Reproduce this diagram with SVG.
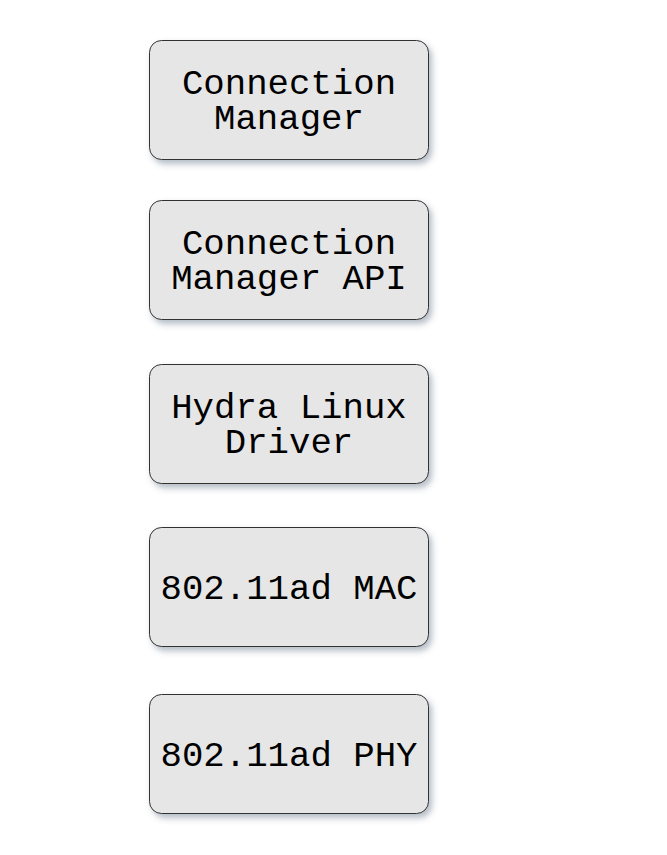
<svg xmlns="http://www.w3.org/2000/svg" width="667" height="855" viewBox="0 0 667 855">
<style>
.box{fill:#e6e6e6;stroke:#333333;stroke-width:1;filter:url(#sh)}
.t{font-family:"Liberation Mono","Courier New",monospace;font-size:35.7px;fill:#000000;text-anchor:middle}
</style>
<defs>
<filter id="sh" x="-10%" y="-10%" width="125%" height="130%">
<feDropShadow dx="3" dy="4" stdDeviation="3" flood-color="#5a6a80" flood-opacity="0.45"/>
</filter>
</defs>
<rect width="667" height="855" fill="#ffffff"/>
<g id="connectors"></g>
<g id="node-connection-manager">
<rect class="box" x="149.5" y="40.5" width="279" height="119" rx="12"/>
<text class="t" x="289" y="94">Connection</text>
<text class="t" x="289" y="129">Manager</text>
</g>
<g id="node-connection-manager-api">
<rect class="box" x="149.5" y="200.5" width="279" height="119" rx="12"/>
<text class="t" x="289" y="254">Connection</text>
<text class="t" x="289" y="289">Manager API</text>
</g>
<g id="node-hydra-linux-driver">
<rect class="box" x="149.5" y="364.5" width="279" height="119" rx="12"/>
<text class="t" x="289" y="418">Hydra Linux</text>
<text class="t" x="289" y="453">Driver</text>
</g>
<g id="node-mac">
<rect class="box" x="149.5" y="527.5" width="279" height="119" rx="12"/>
<text class="t" x="289" y="599">802.11ad MAC</text>
</g>
<g id="node-phy">
<rect class="box" x="149.5" y="694.5" width="279" height="119" rx="12"/>
<text class="t" x="289" y="766">802.11ad PHY</text>
</g>
</svg>
